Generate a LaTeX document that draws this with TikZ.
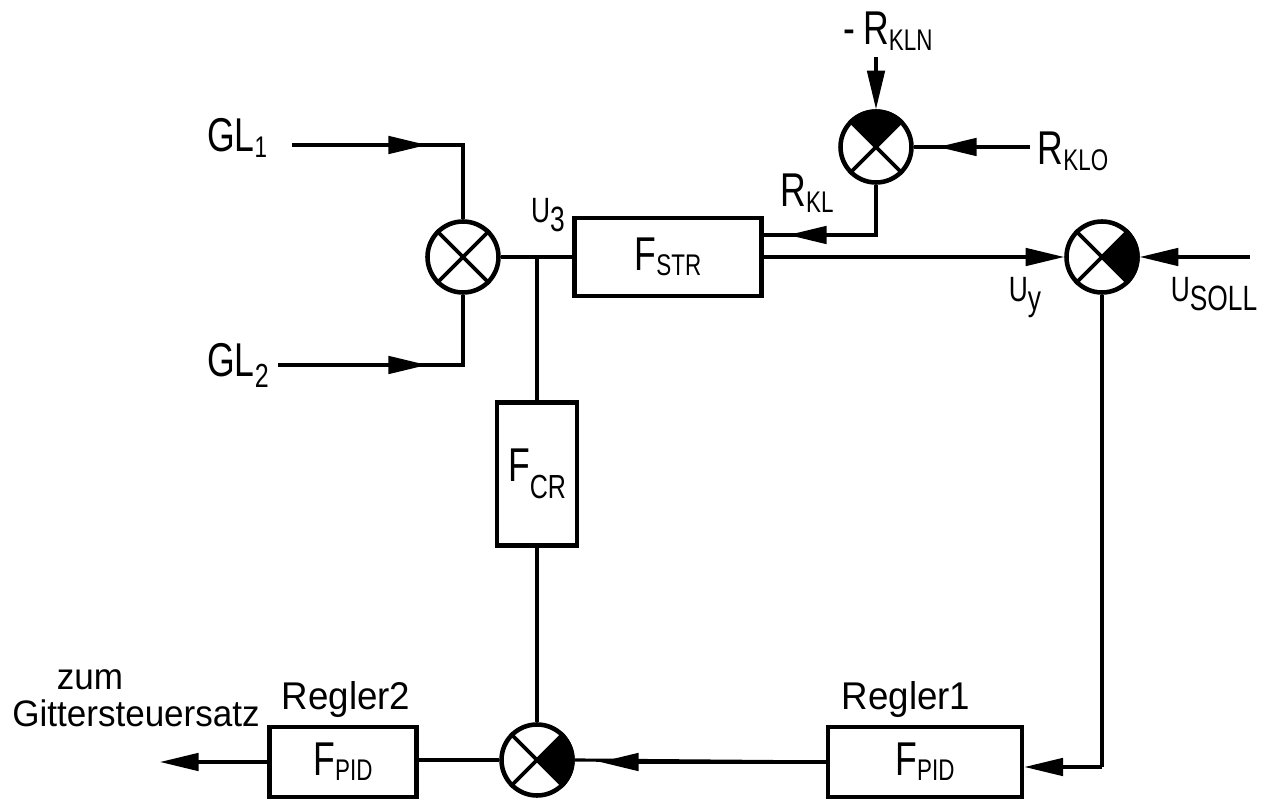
\documentclass[tikz,border=0pt]{standalone}
\usepackage{fontspec}
\setmainfont{Liberation Sans}[FakeStretch=0.75]
\newfontfamily\widefont{Liberation Sans}[FakeStretch=0.95]
\usetikzlibrary{arrows.meta}
\newcommand\lsub[1]{\raisebox{-3pt}{\fontsize{17}{17}\selectfont #1}}
\newcommand\usym[1]{{\fontsize{20}{20}\selectfont U\raisebox{-5pt}{#1}}}
\newcommand\sumfill[2]{\fill (#1.center) -- (#1.#2) arc[start angle=#2, delta angle=90, radius=0.75cm] -- cycle;}
\newcommand\sumcross[1]{\draw[line width=2.2pt] (#1.45) -- (#1.225) (#1.135) -- (#1.315);}
\begin{document}
\begin{tikzpicture}[x=0.02cm, y=-0.02cm, line width=1.8pt,
  box/.style={draw, line width=2.8pt, inner sep=0pt, font=\fontsize{27}{27}\selectfont},
  sumj/.style={circle, draw, line width=2.6pt, minimum size=1.42cm, inner sep=0pt},
  lab/.style={inner sep=0pt, anchor=base, font=\fontsize{27}{27}\selectfont},
  wlab/.style={inner sep=0pt, anchor=base, font=\widefont\fontsize{22}{22}\selectfont},
  arr/.style={-{Triangle[length=22pt, width=10pt]}},
]
\useasboundingbox (0,0) rectangle (1276,800);

% blocks
\node[box, minimum width=3.74cm, minimum height=1.56cm] (fstr) at (668,257) {F\lsub{STR}};
\node[box, minimum width=1.6cm, minimum height=2.86cm] (fcr) at (537,474) {F\raisebox{-10pt}{\fontsize{19}{19}\selectfont CR}};
\node[box, minimum width=2.94cm, minimum height=1.4cm] (r2) at (343,762) {F\lsub{PID}};
\node[box, minimum width=3.88cm, minimum height=1.4cm] (r1) at (925,762) {F\lsub{PID}};

% summing junctions
\node[sumj] (s1) at (463,257) {};
\node[sumj] (s2) at (876,147) {};
\node[sumj] (s3) at (1102,257) {};
\node[sumj] (s4) at (537,760) {};
\sumfill{s2}{45}
\sumfill{s3}{-45}
\sumfill{s4}{-45}
\sumcross{s1}
\sumcross{s2}
\sumcross{s3}
\sumcross{s4}

% labels
\node[lab] (gl1) at (237,152) {GL\lsub{1}};
\node[lab] (gl2) at (238,377) {GL\raisebox{-6pt}{\fontsize{19}{19}\selectfont 2}};
\node[lab] (u3) at (548,223) {\usym{3}};
\node[lab] (rkl) at (807,207) {R\lsub{KL}};
\node[lab] (rkln) at (888,45) {-\,R\lsub{KLN}};
\node[lab] (rklo) at (1073,165) {R\lsub{KLO}};
\node[lab] (uy) at (1025,302) {\usym{y}};
\node[lab] (usoll) at (1214,302) {\usym{SOLL}};
\node[wlab] (reg2) at (346,710) {Regler2};
\node[wlab] (reg1) at (906,710) {Regler1};
\node[wlab, font=\widefont\fontsize{21}{21}\selectfont] (zum) at (90,690) {zum};
\node[wlab, font=\widefont\fontsize{21}{21}\selectfont] (gss) at (136,727) {Gittersteuersatz};

% coordinates
\coordinate (g1s) at (292,145);
\coordinate (g1a) at (427,145);
\coordinate (g1c) at (463,145);
\coordinate (g2s) at (278,365);
\coordinate (g2a) at (427,365);
\coordinate (g2c) at (463,365);
\coordinate (j1) at (537,257);
\coordinate (rklc) at (876,235);
\coordinate (rkla) at (788,235);
\coordinate (rklb) at (830,235);
\coordinate (fkl) at (fstr.east |- rklc);
\coordinate (rkln0) at (876,57);
\coordinate (rklo0) at (1030,147);
\coordinate (rkloa) at (938,147);
\coordinate (us0) at (1250,257);
\coordinate (s3c) at (1102,767);
\coordinate (r1in) at (r1.east |- s3c);
\coordinate (s4a) at (600,762);
\coordinate (outp) at (160,762);

% connectors
\draw (g1s) -- (g1c) -- (s1.north);
\draw[arr] (g1s) -- (g1a);
\draw (g2s) -- (g2c) -- (s1.south);
\draw[arr] (g2s) -- (g2a);
\draw (s1.east) -- (fstr.west);
\draw (j1) -- (fcr.north);
\draw (fcr.south) -- (s4.north);
\draw[arr] (fstr.east) -- (s3.west);
\draw (s2.south) -- (rklc) -- (fkl);
\draw[arr] (rklb) -- (rkla);
\draw[arr] (rkln0) -- (s2.north);
\draw (rklo0) -- (s2.east);
\draw[arr] (rklo0) -- (rkloa);
\draw[arr] (us0) -- (s3.east);
\draw (s3.south) -- (s3c);
\draw[arr] (s3c) -- (r1in);
\draw (r1.west |- s4a) -- (s4.east);
\draw[arr] (r1.west |- s4a) -- (s4a);
\draw (s4.west) -- (r2.east |- s4.west);
\draw[arr] (r2.west) -- (outp);
\end{tikzpicture}
\end{document}
